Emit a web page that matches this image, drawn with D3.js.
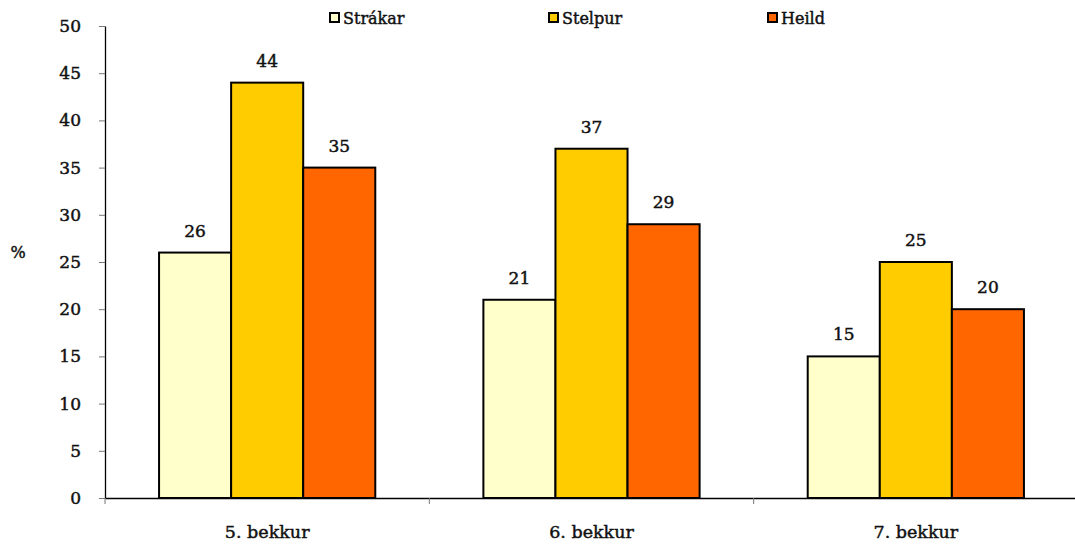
<!DOCTYPE html>
<html>
<head>
<meta charset="utf-8">
<script src="https://cdn.jsdelivr.net/npm/d3@7"></script>
<style>
  body { margin: 0; background: #fff; }
  svg text { font-family: "DejaVu Serif", serif; fill: #111; stroke: #111; stroke-width: 0.45px; }
</style>
</head>
<body>
<svg id="chart" width="1075" height="550"></svg>
<script>
// Grade levels and percentages per group
const categories = ["5. bekkur", "6. bekkur", "7. bekkur"];
const seriesNames = ["Strákar", "Stelpur", "Heild"];
const strakar = [26, 21, 15];
const stelpur = [44, 37, 25];
const heild = [35, 29, 20];
const yTicks = [0, 5, 10, 15, 20, 25, 30, 35, 40, 45, 50];
const colors = ["#FFFFCC", "#FFCC00", "#FF6600"];

const seriesValues = [strakar, stelpur, heild];
const rows = categories.map((c, i) => ({
  cat: c,
  vals: seriesNames.map((s, j) => ({ key: s, value: seriesValues[j][i], idx: j }))
}));

const svg = d3.select("#chart");
const plotLeft = 105, plotRight = 1078, plotTop = 26, plotBottom = 498;

const x0 = d3.scaleBand().domain(categories).range([plotLeft, plotRight]).paddingInner(0).paddingOuter(0);
const x1 = d3.scaleBand().domain(seriesNames).range([0, x0.bandwidth()]).paddingOuter(0.75).paddingInner(0);
const y = d3.scaleLinear().domain([0, 50]).range([plotBottom, plotTop]);

// Y axis
const yAxis = svg.append("g").attr("transform", `translate(${plotLeft},0)`)
  .call(d3.axisLeft(y).tickValues(yTicks).tickSize(6).tickPadding(18).tickSizeOuter(0));
yAxis.select(".domain").attr("stroke", "#000").attr("stroke-width", 1.3);
yAxis.selectAll(".tick line").attr("stroke", "#777");
yAxis.selectAll(".tick text").attr("font-size", 17).attr("font-family", "DejaVu Serif").attr("fill", "#111");

// Bars
const groups = svg.append("g").selectAll("g").data(rows).join("g")
  .attr("transform", d => `translate(${x0(d.cat)},0)`);

groups.selectAll("rect").data(d => d.vals).join("rect")
  .attr("x", d => x1(d.key))
  .attr("y", d => y(d.value))
  .attr("width", x1.bandwidth())
  .attr("height", d => y(0) - y(d.value))
  .attr("fill", d => colors[d.idx])
  .attr("stroke", "#000")
  .attr("stroke-width", 2);

groups.selectAll("text.val").data(d => d.vals).join("text")
  .attr("class", "val")
  .attr("x", d => x1(d.key) + x1.bandwidth() / 2)
  .attr("y", d => y(d.value) - 16)
  .attr("text-anchor", "middle")
  .attr("font-size", 17)
  .text(d => d.value);

// X axis
const xAxis = svg.append("g").attr("transform", `translate(0,${plotBottom})`)
  .call(d3.axisBottom(x0).tickSize(0).tickPadding(28).tickSizeOuter(0));
xAxis.select(".domain").attr("stroke", "#000").attr("stroke-width", 1.3);
xAxis.selectAll(".tick text").attr("font-size", 17.5).attr("font-family", "DejaVu Serif").attr("fill", "#111");

// Category separator ticks
svg.append("g").selectAll("line").data(categories.concat(["end"])).join("line")
  .attr("x1", (d, i) => plotLeft + i * x0.bandwidth())
  .attr("x2", (d, i) => plotLeft + i * x0.bandwidth())
  .attr("y1", plotBottom).attr("y2", plotBottom + 6)
  .attr("stroke", "#777");

// Y axis title
svg.append("text").attr("x", 18).attr("y", 258).attr("text-anchor", "middle")
  .attr("font-size", 16).text("%");

// Legend
const legendX = [330, 549, 768];
const legend = svg.append("g").selectAll("g").data(seriesNames).join("g")
  .attr("transform", (d, i) => `translate(${legendX[i]},13)`);
legend.append("rect").attr("width", 9).attr("height", 9)
  .attr("fill", (d, i) => colors[i]).attr("stroke", "#000").attr("stroke-width", 2);
legend.append("text").attr("x", 13).attr("y", 10.5).attr("font-size", 16).text(d => d);
</script>
</body>
</html>
